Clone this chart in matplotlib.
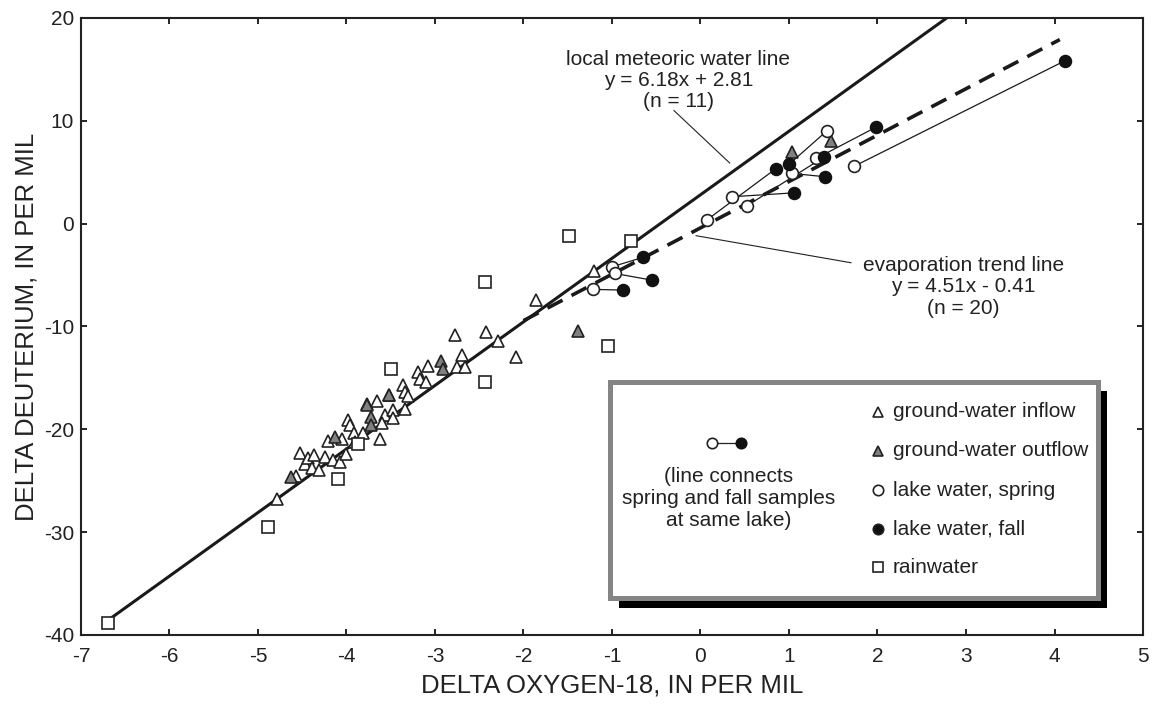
import matplotlib
matplotlib.use("Agg")
import matplotlib.pyplot as plt
from matplotlib.patches import Rectangle
import numpy as np

plt.rcParams['font.family'] = ['Liberation Sans', 'DejaVu Sans']
plt.rcParams['axes.unicode_minus'] = False

# ground-water inflow (open triangles)
gw_in_x = [-4.79, -4.57, -4.53, -4.47, -4.44, -4.39, -4.37, -4.31, -4.24, -4.21, -4.15,
           -4.07, -4.05, -4.00, -3.98, -3.96, -3.92, -3.90, -3.81, -3.77, -3.66, -3.62,
           -3.57, -3.60, -3.47, -3.48, -3.52, -3.36, -3.34, -3.30, -3.34, -3.19, -3.17,
           -3.08, -3.10, -2.75, -2.69, -2.66, -2.77, -2.42, -2.29, -2.09, -1.86, -1.20]
gw_in_y = [-26.8, -24.5, -22.3, -23.4, -22.8, -23.8, -22.5, -24.0, -22.7, -21.1, -23.0,
           -23.2, -20.9, -22.4, -19.1, -19.6, -20.4, -21.2, -20.4, -17.5, -17.2, -20.9,
           -18.6, -19.4, -18.1, -18.9, -16.7, -15.7, -16.4, -16.8, -18.0, -14.4, -15.1,
           -13.8, -15.4, -13.9, -12.8, -13.9, -10.8, -10.5, -11.4, -13.0, -7.4, -4.6]

# ground-water outflow (grey triangles)
gw_out_x = [-4.63, -4.13, -3.77, -3.72, -3.72, -3.52, -2.93, -2.91, -1.38, 1.03, 1.48]
gw_out_y = [-24.6, -20.7, -17.6, -18.8, -19.6, -16.7, -13.4, -14.1, -10.4, 7.0, 8.0]

# lake water, spring (open) and fall (filled); same index = same lake
spring_x = [0.07, 0.36, 0.52, 1.03, 1.31, 1.43, 1.74, -1.00, -0.97, -1.21]
spring_y = [0.35, 2.62, 1.71, 4.89, 6.35, 9.04, 5.60, -4.19, -4.84, -6.39]
fall_x = [0.85, 1.06, 1.39, 1.41, 1.98, 1.00, 4.12, -0.65, -0.55, -0.88]
fall_y = [5.34, 3.00, 6.45, 4.56, 9.37, 5.77, 15.85, -3.28, -5.49, -6.46]

# rainwater (open squares)
rain_x = [-6.69, -4.89, -4.10, -3.87, -3.50, -2.44, -2.43, -1.49, -1.04, -0.79]
rain_y = [-38.8, -29.5, -24.8, -21.4, -14.1, -15.4, -5.7, -1.2, -11.9, -1.7]

lmwl = (6.18, 2.81)
evap = (4.51, -0.41)

W, H = 1156, 706
fig = plt.figure(figsize=(W / 100, H / 100), dpi=100)
ax = fig.add_axes([81 / W, 1 - 635 / H, (1143 - 81) / W, (635 - 18) / H])

# regression lines
xl = np.array([-6.69, (20 - lmwl[1]) / lmwl[0]])
ax.plot(xl, lmwl[0] * xl + lmwl[1], color='#1a1a1a', lw=2.2, zorder=2)
xe = np.array([-2.0, 4.06])
ax.plot(xe, evap[0] * xe + evap[1], color='#1a1a1a', lw=2.6, dashes=(4.7, 2.8), zorder=2)

# spring-fall connectors
for sx, sy, fx, fy in zip(spring_x, spring_y, fall_x, fall_y):
    ax.plot([sx, fx], [sy, fy], color='#1a1a1a', lw=0.9, zorder=3)

ms = 9
mew = 1.2
ax.plot(gw_in_x, gw_in_y, ls='none', marker='^', ms=ms, mfc='white', mec='#222222', mew=mew, zorder=4)
ax.plot(gw_out_x, gw_out_y, ls='none', marker='^', ms=ms, mfc='#808080', mec='#222222', mew=mew, zorder=4)
ax.plot(rain_x, rain_y, ls='none', marker='s', ms=ms - 0.5, mfc='white', mec='#222222', mew=mew, zorder=4)
ax.plot(spring_x, spring_y, ls='none', marker='o', ms=ms - 0.5, mfc='white', mec='#222222', mew=mew, zorder=5)
ax.plot(fall_x, fall_y, ls='none', marker='o', ms=ms - 0.5, mfc='#111111', mec='#111111', mew=mew, zorder=5)

# annotations
ax.text(-0.25, 13.9, 'local meteoric water line\ny = 6.18x + 2.81\n(n = 11)',
        ha='center', va='center', fontsize=15, linespacing=1.15, color='#222222')
ax.plot([-0.30, 0.33], [11.0, 5.9], color='#222222', lw=0.8)
ax.text(2.97, -6.15, 'evaporation trend line\ny = 4.51x - 0.41\n(n = 20)',
        ha='center', va='center', fontsize=15, linespacing=1.15, color='#222222')
ax.plot([-0.05, 1.70], [-1.17, -3.80], color='#222222', lw=0.8)

ax.set_xlim(-7, 5)
ax.set_ylim(-40, 20)
ax.set_xticks(range(-7, 6))
ax.set_yticks(range(-40, 21, 10))
ax.tick_params(direction='in', length=4, width=1.2, top=True, right=True,
               labelsize=15, labelcolor='#222222')
ax.tick_params(axis='x', pad=9)
ax.tick_params(axis='y', pad=5)
for s in ax.spines.values():
    s.set_linewidth(1.5)
    s.set_color('#222222')
ax.set_xlabel('DELTA OXYGEN-18, IN PER MIL', fontsize=18.5, color='#222222', labelpad=5)
ax.set_ylabel('DELTA DEUTERIUM, IN PER MIL', fontsize=18.5, color='#222222', labelpad=4)

# legend box drawn in pixel coordinates
lax = fig.add_axes([0, 0, 1, 1])
lax.set_xlim(0, W)
lax.set_ylim(H, 0)
lax.axis('off')
lax.add_patch(Rectangle((619, 391), 488, 217, facecolor='black', edgecolor='none'))
lax.add_patch(Rectangle((609.5, 381.5), 488, 216, facecolor='white', edgecolor='#858585', lw=3.6))

rows = [411.7, 451, 490, 529.3, 567.3]
labels = ['ground-water inflow', 'ground-water outflow', 'lake water, spring',
          'lake water, fall', 'rainwater']
styles = [dict(marker='^', mfc='white'), dict(marker='^', mfc='#808080'),
          dict(marker='o', mfc='white'), dict(marker='o', mfc='#111111'),
          dict(marker='s', mfc='white')]
for yy, lab, st in zip(rows, labels, styles):
    lax.plot([878.3], [yy], ls='none', ms=7.5, mec='#222222', mew=mew, **st)
    lax.text(892.7, yy, lab, ha='left', va='center', fontsize=15, color='#222222')

lax.plot([711.7, 740.7], [442.7, 442.7], color='#222222', lw=0.9)
lax.plot([711.7], [442.7], marker='o', ms=7.5, mfc='white', mec='#222222', mew=mew)
lax.plot([740.7], [442.7], marker='o', ms=7.5, mfc='#111111', mec='#111111', mew=mew)
lax.text(728.3, 499, '(line connects\nspring and fall samples\nat same lake)',
         ha='center', va='center', fontsize=15, linespacing=1.2, color='#222222')

fig.savefig('out.png', dpi=100)
